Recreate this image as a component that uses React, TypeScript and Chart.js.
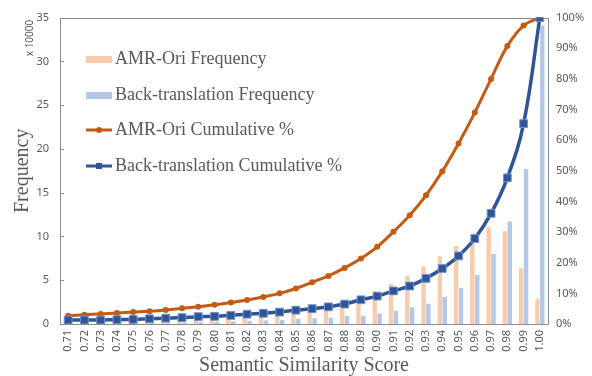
import React, { useEffect, useRef } from "react";
import { Chart, registerables } from "chart.js";

Chart.register(...registerables);

const categories = ["0.71","0.72","0.73","0.74","0.75","0.76","0.77","0.78","0.79","0.80","0.81","0.82","0.83","0.84","0.85","0.86","0.87","0.88","0.89","0.90","0.91","0.92","0.93","0.94","0.95","0.96","0.97","0.98","0.99","1.00"];

// Frequencies (x 10000)
const amrFreq = [0.2,0.2,0.25,0.25,0.3,0.3,0.35,0.4,0.45,0.55,0.65,0.76,0.95,1.03,1.22,1.41,1.67,2.05,2.55,3.76,4.56,5.47,6.57,7.75,8.93,9.8,11.06,10.6,6.38,2.85];
const btFreq = [0.05,0.05,0.08,0.08,0.1,0.12,0.15,0.18,0.2,0.25,0.3,0.35,0.4,0.45,0.6,0.65,0.7,0.9,0.95,1.2,1.5,1.9,2.3,3.1,4.1,5.6,8.0,11.7,17.7,34.1];

// Cumulative %
const amrCum = [2.7,3.0,3.3,3.6,3.9,4.2,4.6,5.1,5.6,6.3,7.0,7.8,8.8,10.0,11.6,13.6,15.7,18.3,21.4,25.2,30.1,35.5,42.0,49.8,58.9,69.0,80.0,90.7,97.4,100];
const btCum = [1.3,1.3,1.3,1.4,1.5,1.7,1.9,2.1,2.4,2.5,2.8,3.2,3.5,3.9,4.5,5.0,5.6,6.5,7.9,9.1,10.8,12.4,14.9,18.1,22.2,27.9,36.1,47.7,65.4,100];

const legendLabels = ["AMR-Ori Frequency","Back-translation Frequency","AMR-Ori Cumulative %","Back-translation Cumulative %"];

const ORANGE_BAR = "#F8CBAD";
const BLUE_BAR = "#B4C7E7";
const ORANGE_LINE = "#C55A11";
const BLUE_LINE = "#2F5597";
const GRAY = "#595959";
const AXIS = "#8C8C8C";

const decorPlugin = {
  id: "decor",
  beforeDatasetsDraw(chart: any) {
    const { ctx, chartArea } = chart;
    const { left, right, top, bottom } = chartArea;
    ctx.save();
    ctx.strokeStyle = AXIS;
    ctx.lineWidth = 1;
    ctx.strokeRect(Math.round(left) + 0.5, Math.round(top) + 0.5, Math.round(right - left), Math.round(bottom - top));
    const y = chart.scales.y;
    ctx.beginPath();
    y.ticks.forEach((t: any) => {
      const py = Math.round(y.getPixelForValue(t.value)) + 0.5;
      ctx.moveTo(left, py);
      ctx.lineTo(left + 4, py);
    });
    ctx.stroke();
    // x 10000 label
    ctx.fillStyle = GRAY;
    ctx.font = "10px 'Noto Sans'";
    ctx.translate(30, 38);
    ctx.rotate(-Math.PI / 2);
    ctx.textAlign = "center";
    ctx.textBaseline = "middle";
    ctx.fillText("x 10000", 0, 0);
    ctx.restore();
  },
  afterDraw(chart: any) {
    const { ctx } = chart;
    ctx.save();
    const x0 = 86, x1 = 112, tx = 115;
    const ys = [59, 95, 130, 166];
    ctx.font = "18px 'Liberation Serif'";
    ctx.textBaseline = "middle";
    ctx.textAlign = "left";
    ctx.fillStyle = ORANGE_BAR;
    ctx.fillRect(x0, ys[0] - 3, x1 - x0, 7);
    ctx.fillStyle = BLUE_BAR;
    ctx.fillRect(x0, ys[1] - 3, x1 - x0, 7);
    ctx.strokeStyle = ORANGE_LINE;
    ctx.lineWidth = 3;
    ctx.beginPath();
    ctx.moveTo(x0, ys[2]);
    ctx.lineTo(x1, ys[2]);
    ctx.stroke();
    ctx.fillStyle = ORANGE_LINE;
    ctx.beginPath();
    ctx.arc((x0 + x1) / 2, ys[2], 3, 0, Math.PI * 2);
    ctx.fill();
    ctx.strokeStyle = BLUE_LINE;
    ctx.beginPath();
    ctx.moveTo(x0, ys[3]);
    ctx.lineTo(x1, ys[3]);
    ctx.stroke();
    ctx.fillStyle = BLUE_LINE;
    ctx.fillRect((x0 + x1) / 2 - 3, ys[3] - 3, 6, 6);
    ctx.fillStyle = GRAY;
    legendLabels.forEach((l, i) => ctx.fillText(l, tx, ys[i]));
    ctx.restore();
  },
};

export default function App() {
  const ref = useRef<HTMLCanvasElement>(null);
  useEffect(() => {
    if (!ref.current) return;
    const chart = new Chart(ref.current, {
      type: "bar",
      data: {
        labels: categories,
        datasets: [
          {
            type: "line",
            label: legendLabels[2],
            data: amrCum,
            yAxisID: "y1",
            borderColor: ORANGE_LINE,
            backgroundColor: ORANGE_LINE,
            borderWidth: 3,
            pointRadius: 3,
            pointBorderWidth: 0,
            pointStyle: "circle",
            tension: 0.4,
            order: 1,
          } as any,
          {
            type: "line",
            label: legendLabels[3],
            data: btCum,
            yAxisID: "y1",
            borderColor: BLUE_LINE,
            backgroundColor: BLUE_LINE,
            borderWidth: 3.5,
            pointRadius: 5.5,
            pointStyle: "rect",
            pointBorderColor: "#6F93D2",
            pointBorderWidth: 1,
            tension: 0.4,
            order: 0,
          } as any,
          {
            label: legendLabels[0],
            data: amrFreq,
            yAxisID: "y",
            backgroundColor: ORANGE_BAR,
            categoryPercentage: 0.6,
            barPercentage: 0.9,
            order: 2,
          },
          {
            label: legendLabels[1],
            data: btFreq,
            yAxisID: "y",
            backgroundColor: BLUE_BAR,
            categoryPercentage: 0.6,
            barPercentage: 0.9,
            order: 2,
          },
        ],
      },
      options: {
        responsive: false,
        animation: false,
        layout: { padding: { top: 17, left: 0, right: 0, bottom: 0 } },
        plugins: { legend: { display: false }, tooltip: { enabled: false } },
        scales: {
          x: {
            grid: { display: false, drawTicks: false },
            border: { display: false },
            ticks: {
              color: GRAY,
              font: { family: "'Noto Sans'", size: 11 },
              minRotation: 90,
              maxRotation: 90,
              padding: 6,
              autoSkip: false,
            },
            title: {
              display: true,
              text: "Semantic Similarity Score",
              color: GRAY,
              font: { family: "'Liberation Serif'", size: 20, lineHeight: 1.0 },
              padding: { top: 0, bottom: 0 },
            },
            afterFit: (s: any) => { s.height = 52; },
          },
          y: {
            position: "left",
            min: 0,
            max: 35,
            grid: { display: false, drawTicks: false },
            border: { display: false },
            ticks: {
              stepSize: 5,
              color: GRAY,
              font: { family: "'Noto Sans'", size: 11 },
              padding: 11,
            },
            title: {
              display: true,
              text: "Frequency",
              color: GRAY,
              font: { family: "'Liberation Serif'", size: 20, lineHeight: 1.2 },
              padding: { top: 11, bottom: 0 },
            },
            afterFit: (s: any) => { s.width = 60; },
          },
          y1: {
            position: "right",
            min: 0,
            max: 100,
            grid: { display: false, drawTicks: false },
            border: { display: false },
            ticks: {
              stepSize: 10,
              color: GRAY,
              font: { family: "'Noto Sans'", size: 11 },
              padding: 8,
              callback: (v: any) => v + "%",
            },
            afterFit: (s: any) => { s.width = 44; },
          },
        },
      },
      plugins: [decorPlugin],
    });
    return () => chart.destroy();
  }, []);
  return (
    <div style={{ position: "fixed", left: 0, top: 0, width: 592, height: 376, background: "#fff" }}>
      <canvas ref={ref} width={592} height={376} />
    </div>
  );
}
